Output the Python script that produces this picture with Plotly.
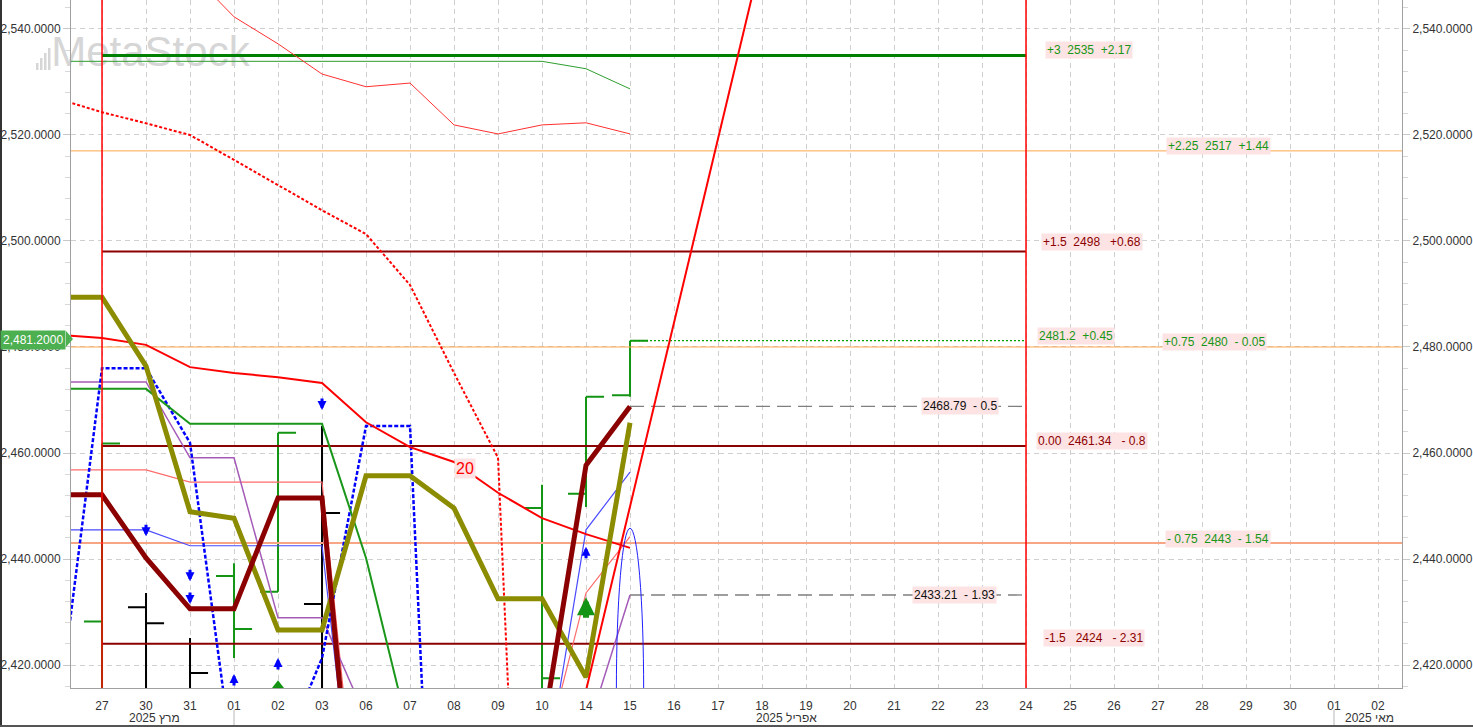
import plotly.graph_objects as go

# ---------------- data ----------------
date_labels = ["27", "30", "31", "01", "02", "03", "06", "07", "08", "09", "10", "14", "15",
               "16", "17", "18", "19", "20", "21", "22", "23", "24", "25", "26", "27", "28",
               "29", "30", "01", "02"]
month_labels = ["מרץ 2025", "אפריל 2025", "מאי 2025"]
month_pos = [1.2, 15.55, 28.8]
month_sep = [3, 28]

line_idx = list(range(-1, 13))  # trading-day index -1 .. 12

ma20 = [2482.3, 2481.7, 2480.4, 2476.2, 2475.1, 2474.3, 2473.2, 2465.8, 2461.1, 2458.3,
        2452.5, 2447.7, 2444.7, 2442.1]
red_dotted = [2526.8, 2524.3, 2522.2, 2520.0, 2515.3, 2510.6, 2505.8, 2501.3, 2491.7, 2475.1,
              2459.1, 2270.0, None, None]
red_top = [None, None, None, 2550.8, 2542.3, 2537.2, 2531.5, 2529.1, 2529.8, 2521.9,
           2520.2, 2521.9, 2522.3, 2520.2]
green_top = [2533.9, 2533.9, 2533.9, 2533.9, 2533.9, 2533.9, 2533.9, 2533.9, 2533.9, 2533.9,
             2533.9, 2533.9, 2532.5, 2528.7]
light_red = [2456.8, 2456.8, 2456.8, 2454.5, 2454.5, 2454.5, 2454.5, 2373.0, 2372.0, 2374.0,
             2378.0, 2401.0, 2433.6, 2444.2]
purple = [2473.4, 2473.4, 2473.4, 2459.1, 2459.1, 2428.9, 2428.9, 2410.0, 2398.0, 2396.0,
          2395.0, 2398.0, 2406.8, 2433.21]
blue_thin = [2445.5, 2445.5, 2445.5, 2442.5, 2442.5, 2442.5, 2442.5, 2370.0, 2365.0, 2365.0,
             2368.0, 2395.0, 2445.5, 2456.4]
blue_dash = [2410.4, 2476.0, 2476.0, 2461.9, 2400.0, 2401.3, 2421.3, 2465.1, 2465.1, 2285.0,
             None, None, None, None]
olive = [2489.4, 2489.4, 2476.4, 2448.9, 2447.7, 2426.6, 2426.6, 2455.7, 2455.7, 2449.6,
         2432.5, 2432.5, 2417.7, 2465.7]
maroon = [2452.1, 2452.1, 2440.2, 2430.6, 2430.6, 2451.5, 2451.5, 2364.0, 2360.0, 2358.0,
          2360.0, 2406.6, 2457.7, 2468.79]
green_ma = [2472.1, 2472.1, 2472.1, 2465.5, 2465.5, 2465.5, 2465.5, 2440.2, 2406.4, None,
            None, None, None, None]

trend_x = [11, 15]
trend_y = [2415.2, 2554.0]

# OHLC bars (green = up vs previous close, black = down)
g_x = [0, 3, 4, 10, 11, 12]
g_open = [2428.2, 2436.8, 2433.8, 2449.6, 2452.3, 2470.9]
g_high = [2461.8, 2439.2, 2463.8, 2454.0, 2470.6, 2481.2]
g_low = [2405.0, 2421.3, 2433.8, 2405.0, 2449.8, 2470.6]
g_close = [2461.8, 2426.8, 2463.8, 2417.5, 2470.6, 2481.2]
b_x = [1, 2, 5]
b_open = [2430.9, 2410.0, 2431.5]
b_high = [2433.6, 2425.1, 2465.1]
b_low = [2405.0, 2405.0, 2405.0]
b_close = [2427.9, 2418.5, 2448.7]

# horizontal levels
full_levels = [2517.0, 2480.0, 2443.0]
full_colors = ["#FFA64D", "#FFA64D", "#F7A585"]
full_widths = [1, 1, 2]
box_levels = [2535.0, 2498.0, 2461.34, 2424.0]
box_colors = ["#008000", "#8B0000", "#8B0000", "#8B0000"]
box_widths = [3, 2, 2, 2]
box_start, box_end = 0, 21
last_levels = [2481.2, 2468.79, 2433.21]
last_colors = ["#00A000", "#7F7F7F", "#7F7F7F"]
last_dash = ["2px,2px", "14px,7px", "14px,7px"]
last_start = 12

# level labels
lab_text = ["+3  2535  +2.17", "+2.25  2517  +1.44", "+1.5  2498   +0.68", "2481.2  +0.45",
            "+0.75  2480  - 0.05", "2468.79  - 0.5", "0.00  2461.34   - 0.8",
            "- 0.75  2443  - 1.54", "2433.21  - 1.93", "-1.5   2424   - 2.31"]
lab_y = [2535.0, 2517.0, 2498.0, 2481.2, 2480.0, 2468.79, 2461.34, 2443.0, 2433.21, 2424.0]
lab_x = [21.43, 24.18, 21.34, 21.25, 24.09, 20.39, 21.23, 24.16, 20.34, 21.39]
lab_anchor = ["left", "left", "left", "left", "left", "right", "left", "left", "right", "left"]
lab_shift = [5, 5, 10, 5, 5, 0, 5, 4, 0, 6]
lab_color = ["#179617", "#179617", "#8B0000", "#179617", "#179617", "#111111", "#8B0000",
             "#179617", "#111111", "#8B0000"]

# signal arrows
down_x = [1, 2, 2, 5]
down_tip = [2444.3, 2435.8, 2431.5, 2468.1]
up_x = [3, 4, 11]
up_tip = [2418.3, 2421.3, 2442.3]
big_up_x = [11]
big_up_tip = [2432.8]
tri_x = [4]
tri_y = [2416.1]

ell_x = [11.69, 12.31]
ell_y = [2384.7, 2445.8]

vlines = [0, 21]
last_close = 2481.2

# ---------------- geometry helpers ----------------
W, H = 1473, 727
PL, PR, PT, PB = 71, 1402, 0, 688
Y0, Y1 = 2415.66, 2545.47
X0, X1 = -0.705, 29.545


def px(p):
    return (p - PL) / (PR - PL)


def py(q):
    return (PB - q) / (PB - PT)


def yv(q):
    return Y1 - (q - PT) * (Y1 - Y0) / (PB - PT)


FONT = "Arial, 'Liberation Sans', sans-serif"
nb = lambda s: s.replace(" ", "\u00a0")

fig = go.Figure()

# watermark (below all data)
fig.add_trace(go.Scatter(x=[1.1], y=[yv(55)], mode="text", text=["MetaStock"],
                         textfont=dict(family=FONT, size=42, color="#d6d6d6"),
                         cliponaxis=False, hoverinfo="skip", showlegend=False))

# full width levels
for v, c, w in zip(full_levels, full_colors, full_widths):
    fig.add_trace(go.Scatter(x=[-2, 31], y=[v, v], mode="lines", line=dict(color=c, width=w),
                             hoverinfo="skip", showlegend=False))
# box levels
for v, c, w in zip(box_levels, box_colors, box_widths):
    fig.add_trace(go.Scatter(x=[box_start, box_end], y=[v, v], mode="lines",
                             line=dict(color=c, width=w), hoverinfo="skip", showlegend=False))
# last value levels
for v, c, d in zip(last_levels, last_colors, last_dash):
    fig.add_trace(go.Scatter(x=[last_start, box_end], y=[v, v], mode="lines",
                             line=dict(color=c, width=1.3, dash=d), hoverinfo="skip",
                             showlegend=False))


def add_line(y, color, width, dash="solid"):
    fig.add_trace(go.Scatter(x=line_idx, y=y, mode="lines",
                             line=dict(color=color, width=width, dash=dash),
                             connectgaps=False, hoverinfo="skip", showlegend=False))


add_line(green_top, "#2E9E2E", 1)
add_line(red_top, "#FF3030", 1)
add_line(red_dotted, "#FF0000", 2, "3px,2px")
add_line(light_red, "#FF6A6A", 1.2)
add_line(purple, "#A45BB8", 1.5)
add_line(blue_thin, "#4A4AFF", 1.2)
add_line(blue_dash, "#0000FF", 2.5, "4px,2px")
add_line(green_ma, "#1A961A", 2)
add_line(ma20, "#FF0000", 2)
add_line(olive, "#8C8C00", 5)
add_line(maroon, "#8B0000", 5)

fig.add_trace(go.Scatter(x=trend_x, y=trend_y, mode="lines", line=dict(color="#FF0000", width=2),
                         hoverinfo="skip", showlegend=False))

# OHLC
fig.add_trace(go.Ohlc(x=g_x, open=g_open, high=g_high, low=g_low, close=g_close,
                      increasing=dict(line=dict(color="#149414", width=2)),
                      decreasing=dict(line=dict(color="#149414", width=2)),
                      tickwidth=0.41, hoverinfo="skip", showlegend=False))
fig.add_trace(go.Ohlc(x=b_x, open=b_open, high=b_high, low=b_low, close=b_close,
                      increasing=dict(line=dict(color="#000000", width=2)),
                      decreasing=dict(line=dict(color="#000000", width=2)),
                      tickwidth=0.41, hoverinfo="skip", showlegend=False))

# green triangle at bottom
fig.add_trace(go.Scatter(x=tri_x, y=tri_y, mode="markers",
                         marker=dict(symbol="triangle-up", size=11, color="#149414"),
                         cliponaxis=True, hoverinfo="skip", showlegend=False))

# dummy for right axis
fig.add_trace(go.Scatter(x=[0], y=[2480], yaxis="y2", mode="markers", marker=dict(opacity=0),
                         hoverinfo="skip", showlegend=False))

annotations = []
for t, x, y, a, s, c in zip(lab_text, lab_x, lab_y, lab_anchor, lab_shift, lab_color):
    annotations.append(dict(x=x, y=y, xref="x", yref="y", text=nb(t), showarrow=False,
                            xanchor=a, yanchor="middle", yshift=s, bgcolor="#FDE3E3",
                            borderpad=1, font=dict(family=FONT, size=12, color=c)))
annotations.append(dict(x=8.25, y=yv(468), xref="x", yref="y", text="20", showarrow=False,
                        bgcolor="#FDE3E3", borderpad=1,
                        font=dict(family=FONT, size=16, color="#FF0000")))
for x, y in zip(down_x, down_tip):
    annotations.append(dict(x=x, y=y, xref="x", yref="y", ax=0, ay=-13, text="",
                            showarrow=True, arrowhead=2, arrowsize=0.6, arrowwidth=3,
                            arrowcolor="#0000FF", standoff=0))
for x, y in zip(up_x, up_tip):
    annotations.append(dict(x=x, y=y, xref="x", yref="y", ax=0, ay=13, text="",
                            showarrow=True, arrowhead=2, arrowsize=0.6, arrowwidth=3,
                            arrowcolor="#0000FF", standoff=0))
for x, y in zip(big_up_x, big_up_tip):
    annotations.append(dict(x=x, y=y, xref="x", yref="y", ax=0, ay=22, text="",
                            showarrow=True, arrowhead=2, arrowsize=0.6, arrowwidth=6,
                            arrowcolor="#149414", standoff=0))
# month labels
for t, x in zip(month_labels, month_pos):
    annotations.append(dict(x=x, y=py(718), xref="x", yref="paper", text=t, showarrow=False,
                            xanchor="center", yanchor="middle",
                            font=dict(family=FONT, size=12, color="#333333")))
# left last-price tag
annotations.append(dict(x=px(0), y=last_close, xref="paper", yref="y", yshift=1,
                        text="2,481.2000", showarrow=False, xanchor="left", yanchor="middle",
                        bgcolor="#4CAF50", borderpad=2,
                        font=dict(family=FONT, size=12, color="#FFFFFF")))

shapes = []
for v in vlines:
    shapes.append(dict(type="line", xref="x", yref="paper", x0=v, x1=v, y0=0, y1=1,
                       line=dict(color="#FF0000", width=1.5), layer="above"))
shapes.append(dict(type="circle", xref="x", yref="y", x0=ell_x[0], x1=ell_x[1],
                   y0=ell_y[0], y1=ell_y[1], line=dict(color="#2020FF", width=1),
                   layer="above"))
for s in month_sep:
    shapes.append(dict(type="line", xref="x", yref="paper", x0=s, x1=s, y0=py(710), y1=py(727),
                       line=dict(color="#D0D0D0", width=1.5)))
# tag arrow
shapes.append(dict(type="path", xref="paper", yref="y",
                   path=f"M {px(66)} {yv(331)} L {px(73)} {yv(339)} L {px(66)} {yv(347)} Z",
                   fillcolor="#4CAF50", line=dict(width=0)))
# watermark bars icon
for i, top in enumerate([63, 58, 53, 48]):
    shapes.append(dict(type="rect", xref="paper", yref="paper", x0=px(36 + i * 4),
                       x1=px(38.5 + i * 4), y0=py(70), y1=py(top), fillcolor="#d6d6d6",
                       line=dict(width=0), layer="below"))
# outer frame (left / bottom)
shapes.append(dict(type="line", xref="paper", yref="paper", x0=px(1), x1=px(1), y0=py(0),
                   y1=py(727), line=dict(color="#333333", width=2)))
shapes.append(dict(type="line", xref="paper", yref="paper", x0=px(0), x1=px(1473),
                   y0=py(726), y1=py(726), line=dict(color="#555555", width=2)))

yaxis_common = dict(range=[Y0, Y1], dtick=20, tick0=2420, tickformat=",.4f",
                    tickfont=dict(family=FONT, size=12, color="#333333"),
                    ticks="outside", ticklen=7, tickcolor="#C8C8C8",
                    minor=dict(dtick=4, tick0=2420, ticks="outside", ticklen=5,
                               tickcolor="#D8D8D8", showgrid=False),
                    showline=True, linecolor="#A0A0A0", linewidth=1, zeroline=False,
                    fixedrange=True)

fig.update_layout(
    width=W, height=H,
    margin=dict(l=PL, r=W - PR, t=PT, b=H - PB, pad=0),
    paper_bgcolor="#FFFFFF", plot_bgcolor="#FFFFFF",
    showlegend=False, hovermode=False,
    font=dict(family=FONT, size=12, color="#333333"),
    xaxis=dict(range=[X0, X1], tickmode="array", tickvals=list(range(len(date_labels))),
               ticktext=date_labels, showgrid=True, gridcolor="#CFCFCF", griddash="5px,4px",
               gridwidth=1, showline=True, linecolor="#A0A0A0", linewidth=1, mirror=False,
               ticks="", ticklabelstandoff=7,
               tickfont=dict(family=FONT, size=12, color="#333333"),
               rangeslider=dict(visible=False), zeroline=False, fixedrange=True),
    yaxis=dict(showgrid=True, gridcolor="#CFCFCF", griddash="5px,4px", side="left",
               **yaxis_common),
    yaxis2=dict(overlaying="y", side="right", showgrid=False, **yaxis_common),
    annotations=annotations,
    shapes=shapes,
)

fig.write_html("out.html", config={"displayModeBar": False},
               post_script="document.body.style.margin='0';")
